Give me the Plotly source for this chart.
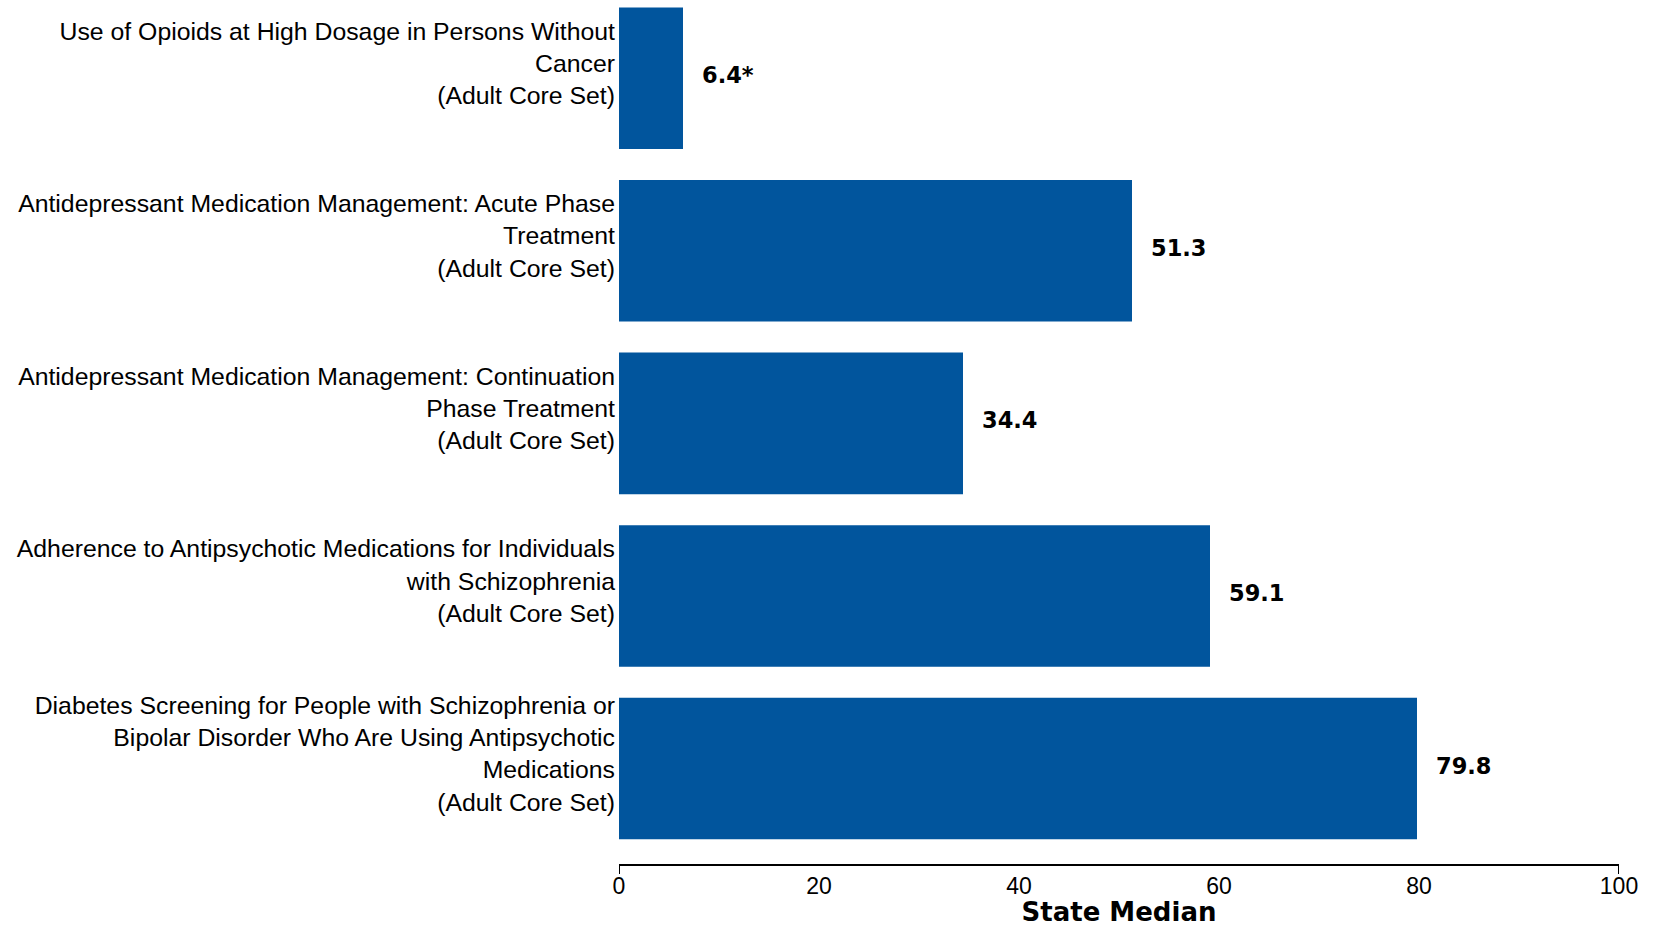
import plotly.graph_objects as go

categories = [
    "Use of Opioids at High Dosage in Persons Without<br>Cancer<br>(Adult Core Set)",
    "Antidepressant Medication Management: Acute Phase<br>Treatment<br>(Adult Core Set)",
    "Antidepressant Medication Management: Continuation<br>Phase Treatment<br>(Adult Core Set)",
    "Adherence to Antipsychotic Medications for Individuals<br>with Schizophrenia<br>(Adult Core Set)",
    "Diabetes Screening for People with Schizophrenia or<br>Bipolar Disorder Who Are Using Antipsychotic<br>Medications<br>(Adult Core Set)",
]
values = [6.4, 51.3, 34.4, 59.1, 79.8]
value_labels = ["6.4*", "51.3", "34.4", "59.1", "79.8"]
x_ticks = [0, 20, 40, 60, 80, 100]

BAR_COLOR = "#01559d"

fig = go.Figure()
fig.add_trace(go.Bar(
    x=values,
    y=categories,
    orientation="h",
    marker=dict(color=BAR_COLOR, line=dict(width=0)),
    hoverinfo="skip",
))

for v, lab, cat in zip(values, value_labels, categories):
    fig.add_annotation(
        x=v, y=cat, xref="x", yref="y",
        text=lab, showarrow=False,
        xanchor="left", yanchor="middle", xshift=17, yshift=3,
        font=dict(family="DejaVu Sans", size=22.5, color="black", weight="bold"),
    )

# axis end caps
for xv in (x_ticks[0], x_ticks[-1]):
    fig.add_shape(
        type="line", xref="x", yref="paper",
        x0=xv, x1=xv, ysizemode="pixel", yanchor=0, y0=0, y1=-10,
        line=dict(color="black", width=2),
    )

fig.update_layout(
    width=1655, height=927,
    margin=dict(l=619, r=36, t=0, b=63),
    paper_bgcolor="white", plot_bgcolor="white",
    bargap=0.18,
    showlegend=False,
    xaxis=dict(
        range=[0, 100], tickvals=x_ticks, ticks="", showgrid=False, zeroline=False,
        showline=True, linecolor="black", linewidth=2,
        tickfont=dict(family="Liberation Sans, Arial", size=23, color="black"),
        title=dict(text="State Median", standoff=3,
                   font=dict(family="DejaVu Sans", size=26, color="black", weight="bold")),
        automargin=False, fixedrange=True,
    ),
    yaxis=dict(
        range=[4.553, -0.453], showgrid=False, zeroline=False, showline=False, ticks="",
        tickfont=dict(family="Liberation Sans, Arial", size=24.8, color="black"),
        ticklabelstandoff=3, ticklabelshift=15,
        automargin=False, fixedrange=True,
    ),
)

fig.write_html(
    "out.html",
    config={"displayModeBar": False},
    post_script="document.body.style.margin='0';document.body.style.overflow='hidden';",
)
